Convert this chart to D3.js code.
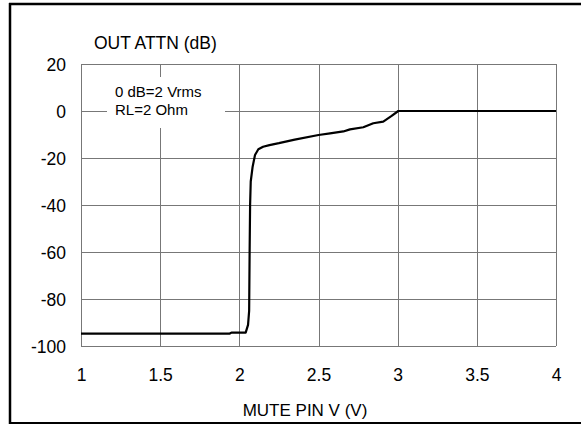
<!DOCTYPE html>
<html>
<head>
<meta charset="utf-8">
<script src="https://cdn.jsdelivr.net/npm/d3@7/dist/d3.min.js"></script>
<style>
  body { margin: 0; background: #fff; }
  text { font-family: "Liberation Sans", Arial, Helvetica, sans-serif; fill: #000; }
</style>
</head>
<body>
<svg id="chart" width="581" height="424"></svg>
<script>
// curve: mute pin voltage vs output attenuation
var muteV  = [1.00, 1.94, 1.95, 2.04, 2.055, 2.062, 2.065, 2.068, 2.072, 2.084, 2.099, 2.12, 2.15, 2.19, 2.25, 2.35, 2.5, 2.573, 2.657, 2.699, 2.783, 2.846, 2.909, 2.962, 3.004, 4.00];
var attnDb = [-94.7, -94.7, -94.3, -94.3, -91, -85, -60, -40, -30, -23.7, -18.7, -16.3, -15.2, -14.5, -13.7, -12.2, -10.2, -9.5, -8.7, -7.8, -6.9, -5.2, -4.5, -2.1, 0, 0];

var xTicks = [1, 1.5, 2, 2.5, 3, 3.5, 4];
var yTicks = [-100, -80, -60, -40, -20, 0, 20];
var noteLines = ["0 dB=2 Vrms", "RL=2 Ohm"];

var svg = d3.select('#chart');

// plot area
var plotL = 81, plotR = 556, plotT = 64, plotB = 346;

var x = d3.scaleLinear().domain([1, 4]).range([plotL, plotR]);
var y = d3.scaleLinear().domain([-100, 20]).range([plotB, plotT]);

// outer frame (top, left, bottom edges only)
svg.append('line').attr('x1', 9).attr('x2', 581).attr('y1', 4).attr('y2', 4)
  .attr('stroke', '#000').attr('stroke-width', 2.5);
svg.append('line').attr('x1', 10).attr('x2', 10).attr('y1', 3).attr('y2', 424)
  .attr('stroke', '#000').attr('stroke-width', 2.5);
svg.append('line').attr('x1', 9).attr('x2', 581).attr('y1', 423).attr('y2', 423)
  .attr('stroke', '#000').attr('stroke-width', 2);

// grid
var grid = svg.append('g').attr('stroke', '#777').attr('stroke-width', 1).attr('shape-rendering', 'crispEdges');
grid.selectAll('line.v').data(xTicks).enter().append('line')
  .attr('class', 'v')
  .attr('x1', function(d) { return Math.round(x(d)) + 0.5; })
  .attr('x2', function(d) { return Math.round(x(d)) + 0.5; })
  .attr('y1', plotT).attr('y2', plotB);
grid.selectAll('line.h').data(yTicks).enter().append('line')
  .attr('class', 'h')
  .attr('x1', plotL).attr('x2', plotR)
  .attr('y1', function(d) { return Math.round(y(d)) + 0.5; })
  .attr('y2', function(d) { return Math.round(y(d)) + 0.5; });

// axes (labels only, no tick marks); plain hyphen for negatives
var plainFmt = function(d) { return String(d); };
var xAxis = d3.axisBottom(x).tickValues(xTicks).tickSize(0).tickPadding(0).tickFormat(plainFmt);
svg.append('g').attr('transform', 'translate(0,381)').call(xAxis)
  .call(function(g) { g.select('.domain').remove(); })
  .selectAll('text').attr('font-size', 17.5).attr('dy', 0).attr('y', 0)
  .attr('font-family', '"Liberation Sans", Arial, sans-serif');

var yAxis = d3.axisLeft(y).tickValues(yTicks).tickSize(0).tickPadding(0).tickFormat(plainFmt);
svg.append('g').attr('transform', 'translate(66,0)').call(yAxis)
  .call(function(g) { g.select('.domain').remove(); })
  .selectAll('text').attr('font-size', 17.5).attr('x', 0).attr('dy', '0.35em')
  .attr('font-family', '"Liberation Sans", Arial, sans-serif');

// note box
svg.append('rect').attr('x', 107).attr('y', 77).attr('width', 118).attr('height', 51).attr('fill', '#fff');
svg.selectAll('text.note').data(noteLines).enter().append('text')
  .attr('class', 'note')
  .attr('x', 115)
  .attr('y', function(d, i) { return 97 + i * 18; })
  .attr('font-size', 15)
  .text(function(d) { return d; });

// curve
var pts = d3.zip(muteV, attnDb);
var line = d3.line().x(function(d) { return x(d[0]); }).y(function(d) { return y(d[1]); });
svg.append('path').datum(pts)
  .attr('d', line)
  .attr('fill', 'none')
  .attr('stroke', '#000')
  .attr('stroke-width', 2.2)
  .attr('stroke-linejoin', 'round');

// titles
svg.append('text').attr('x', 94).attr('y', 49).attr('font-size', 17.5).text('OUT ATTN (dB)');
svg.append('text').attr('x', 305).attr('y', 416).attr('text-anchor', 'middle')
  .attr('font-size', 17).text('MUTE PIN V (V)');
</script>
</body>
</html>
